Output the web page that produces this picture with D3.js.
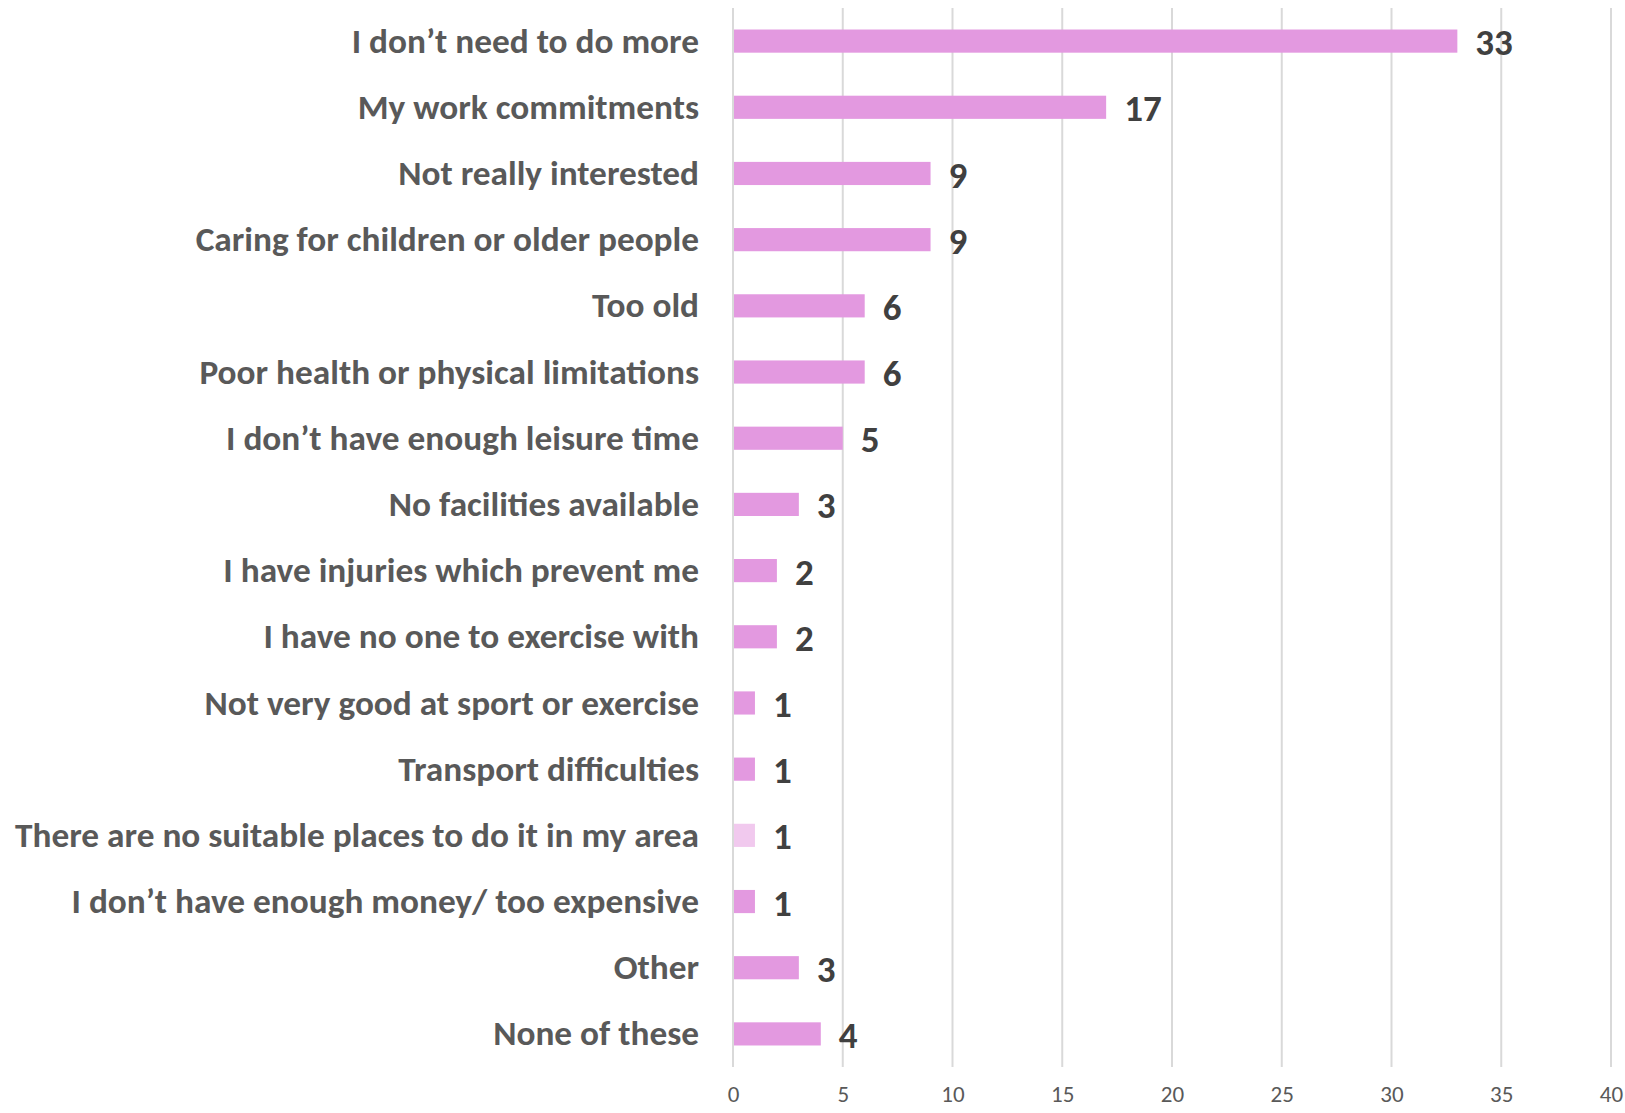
<!DOCTYPE html>
<html>
<head>
<meta charset="utf-8">
<script src="https://cdn.jsdelivr.net/npm/d3@7"></script>
<style>
  body { margin: 0; background: #fff; }
  svg { display: block; }
</style>
</head>
<body>
<svg id="drawing_region"></svg>
<script>
const categories = [
    "I don\u2019t need to do more",
    "My work commitments",
    "Not really interested",
    "Caring for children or older people",
    "Too old",
    "Poor health or physical limitations",
    "I don\u2019t have enough leisure time",
    "No facilities available",
    "I have injuries which prevent me",
    "I have no one to exercise with",
    "Not very good at sport or exercise",
    "Transport difficulties",
    "There are no suitable places to do it in my area",
    "I don\u2019t have enough money/ too expensive",
    "Other",
    "None of these"
];
const values = [33, 17, 9, 9, 6, 6, 5, 3, 2, 2, 1, 1, 1, 1, 3, 4];
const x_ticks = [0, 5, 10, 15, 20, 25, 30, 35, 40];
const faded = ["There are no suitable places to do it in my area"];

const data = categories.map((c, i) => ({ name: c, value: values[i] }));

const config = {
    parent: '#drawing_region',
    width: 1625,
    height: 1113,
    margin: {top: 8, right: 14, bottom: 46, left: 733}
};

const svg = d3.select(config.parent)
    .attr('width', config.width)
    .attr('height', config.height);
const chart = svg.append('g')
    .attr('transform', `translate(${config.margin.left}, ${config.margin.top})`);
const inner_width = config.width - config.margin.left - config.margin.right;
const inner_height = config.height - config.margin.top - config.margin.bottom;

const xscale = d3.scaleLinear()
    .domain([0, 40])
    .range([0, inner_width]);
const yscale = d3.scaleBand()
    .domain(categories)
    .range([0, inner_height])
    .paddingInner(0.65)
    .paddingOuter(0.325);

// gridlines
chart.append('g')
    .selectAll('line')
    .data(x_ticks)
    .join('line')
    .attr('x1', d => xscale(d)).attr('x2', d => xscale(d))
    .attr('y1', 0).attr('y2', inner_height)
    .attr('stroke', '#d9d9d9')
    .attr('stroke-width', 2);

// x tick labels
const xaxis = d3.axisBottom(xscale)
    .tickValues(x_ticks)
    .tickSize(0)
    .tickPadding(19);
const xaxis_group = chart.append('g')
    .attr('transform', `translate(0, ${inner_height})`)
    .call(xaxis)
    .attr('font-size', 23)
    .attr('font-family', 'Carlito, Calibri, "Open Sans", sans-serif');
xaxis_group.select('.domain').remove();
xaxis_group.selectAll('text')
    .attr('fill', '#595959');

// bars
chart.selectAll('rect.bar')
    .data(data)
    .join('rect')
    .attr('class', 'bar')
    .attr('x', 1)
    .attr('y', d => yscale(d.name))
    .attr('width', d => xscale(d.value) - 1)
    .attr('height', yscale.bandwidth())
    .attr('fill', d => faded.includes(d.name) ? '#f1c9ee' : '#e399e0');

// category labels
const labels = chart.append('g')
    .selectAll('text')
    .data(data)
    .join('text')
    .attr('x', -34)
    .attr('y', d => yscale(d.name) + yscale.bandwidth() / 2)
    .attr('dy', '0.34em')
    .attr('text-anchor', 'end')
    .attr('fill', '#595959')
    .style('font-family', 'Carlito, Calibri, Lato, sans-serif')
    .style('font-weight', 'bold')
    .style('font-size', '34px')
    .text(d => d.name);

// fit the widest label to the original's width, same ratio for all
let widest = 0;
labels.each(function() { widest = Math.max(widest, this.getComputedTextLength()); });
const target = 684;
labels.each(function() {
    const w = this.getComputedTextLength();
    d3.select(this).attr('textLength', w * target / widest).attr('lengthAdjust', 'spacingAndGlyphs');
});

// value labels
chart.append('g')
    .selectAll('text')
    .data(data)
    .join('text')
    .attr('x', d => xscale(d.value) + 18)
    .attr('y', d => yscale(d.name) + yscale.bandwidth() / 2)
    .attr('dy', '0.38em')
    .attr('fill', '#404040')
    .style('font-family', 'Carlito, Calibri, Lato, sans-serif')
    .style('font-weight', 'bold')
    .style('font-size', '37px')
    .text(d => d.value);
</script>
</body>
</html>
